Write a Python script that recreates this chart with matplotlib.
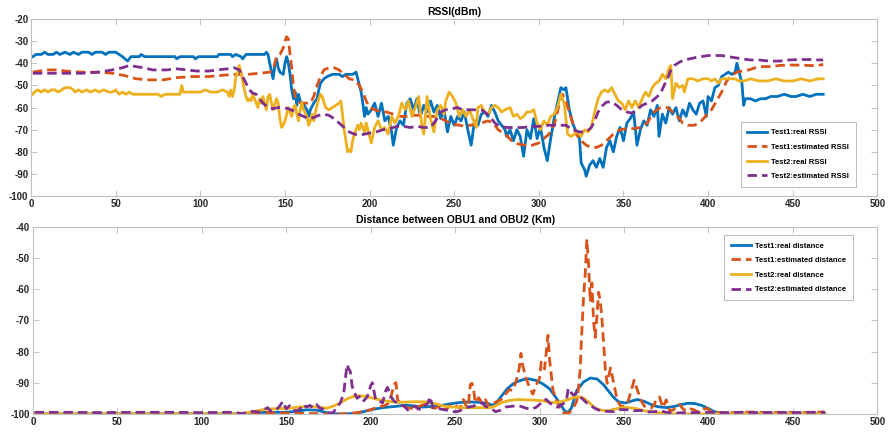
import matplotlib.pyplot as plt

plt.rcParams['font.family'] = ['Liberation Sans', 'DejaVu Sans']
plt.rcParams['axes.unicode_minus'] = False

# MATLAB default line colours
c_blue = '#0072BD'
c_orange = '#D95319'
c_yellow = '#EDB120'
c_purple = '#7E2F8E'

# ---- RSSI (dBm) ----
t1_real_rssi_x = [1, 3, 6, 8, 10, 13, 15, 17, 20, 23, 25, 28, 30, 34, 36, 38, 42, 44, 46, 50, 52, 54, 57, 59, 64, 65, 67,
                  85, 86, 88, 96, 97, 99, 110, 111, 118, 119, 121, 124, 125, 127, 138, 139, 140, 141, 143, 144, 145, 146,
                  147, 149, 150, 151, 152, 153, 154, 155, 156, 157, 158, 159, 160, 161, 162, 163, 164, 165, 167, 169,
                  170, 171, 173, 175, 178, 182, 184, 186, 190, 192, 193, 195, 196, 197, 198, 199, 201, 203, 205, 207,
                  209, 211, 213, 214, 216, 218, 220, 222, 224, 226, 228, 230, 232, 234, 236, 238, 240, 242, 244, 246,
                  248, 250, 252, 254, 256, 258, 260, 262, 264, 266, 268, 270, 272, 274, 276, 278, 280, 281, 283, 285,
                  287, 289, 291, 293, 295, 297, 299, 301, 303, 305, 307, 309, 311, 313, 315, 316, 318, 320, 322, 324,
                  325, 327, 328, 330, 332, 334, 336, 338, 340, 342, 344, 346, 348, 350, 352, 354, 356, 358, 360, 362,
                  364, 366, 368, 370, 371, 373, 375, 377, 379, 381, 383, 385, 387, 389, 391, 393, 395, 397, 399, 400,
                  402, 404, 406, 408, 410, 412, 414, 416, 417, 419, 420, 421, 422, 425, 428, 431, 434, 437, 441, 445,
                  449, 452, 456, 460, 464, 468]
t1_real_rssi_y = [-37, -36, -36, -35, -36, -36, -35, -36, -35, -36, -35, -36, -35, -35, -36, -35, -35, -36, -35, -35, -36,
                  -37, -39, -37, -37, -36, -37, -37, -38, -37, -37, -38, -37, -37, -36, -36, -37, -36, -37, -38, -36,
                  -36, -35, -36, -40, -47, -41, -38, -42, -44, -45, -40, -37, -40, -45, -52, -56, -53, -59, -54, -57,
                  -59, -58, -60, -61, -64, -61, -58, -56, -52, -49, -47, -46, -45, -45, -46, -45, -45, -44, -47, -53,
                  -58, -64, -60, -63, -61, -58, -64, -58, -66, -64, -71, -77, -69, -66, -68, -58, -56, -61, -56, -64,
                  -59, -62, -57, -62, -59, -65, -61, -71, -64, -68, -64, -66, -62, -70, -77, -66, -68, -63, -62, -64,
                  -59, -62, -66, -68, -70, -73, -70, -75, -70, -73, -82, -70, -74, -65, -74, -69, -78, -84, -74, -65,
                  -58, -51, -52, -51, -61, -67, -71, -74, -85, -88, -91, -86, -84, -87, -83, -87, -78, -75, -80, -73,
                  -69, -75, -67, -65, -62, -77, -70, -66, -68, -61, -64, -59, -73, -63, -67, -60, -63, -60, -66, -61,
                  -64, -58, -61, -63, -58, -57, -64, -55, -57, -51, -50, -46, -45, -44, -45, -44, -40, -46, -49, -59,
                  -56, -56, -57, -56, -56, -55, -55, -54, -55, -55, -54, -55, -54, -54]

t1_est_rssi_x = [1, 5, 10, 15, 20, 30, 40, 48, 55, 62, 70, 78, 86, 95, 105, 112, 120, 128, 135, 141, 143, 145, 147, 149,
                 150, 151, 152, 153, 154, 155, 156, 158, 160, 163, 165, 167, 169, 171, 173, 176, 179, 182, 185, 188, 191,
                 194, 196, 198, 200, 203, 207, 210, 214, 218, 222, 226, 230, 234, 238, 241, 245, 249, 253, 257, 262, 266,
                 270, 273, 276, 280, 284, 288, 292, 296, 300, 303, 306, 309, 311, 313, 314, 316, 318, 320, 322, 325, 328,
                 331, 334, 337, 340, 344, 348, 352, 356, 360, 364, 368, 372, 376, 379, 382, 385, 388, 392, 396, 399, 402,
                 405, 408, 411, 414, 417, 420, 424, 428, 432, 437, 442, 448, 454, 460, 465, 468]
t1_est_rssi_y = [-44, -43.5, -43, -43, -43.5, -44, -44, -44.5, -45.5, -47, -47.5, -47.5, -46.5, -46, -46, -45.5, -45, -45,
                 -44.5, -44, -43, -37, -36, -33, -30, -28, -29, -36, -42, -50, -55, -57.5, -58, -58, -58, -55, -50, -46,
                 -43, -42, -42, -43, -45, -47, -47.5, -50, -53, -57, -60, -61, -62, -62, -63, -64, -64, -63.5, -63.5,
                 -64, -64, -64.5, -66, -67.5, -68, -68.5, -67.5, -67, -66, -67, -70, -72, -75, -76.5, -77, -77, -76,
                 -74, -72, -68, -62, -55, -54, -57, -62, -67, -72, -75, -77, -78, -78, -77, -75, -72, -70, -69.5, -69.5,
                 -69, -67, -62, -60, -60, -62, -64, -67, -68, -68, -66, -63.5, -61, -57, -53, -48, -45.5, -44, -43.5,
                 -43, -42, -41.5, -41.5, -41, -40.8, -40.8, -41, -41, -40.5]

t2_real_rssi_x = [1, 2, 4, 6, 8, 10, 12, 14, 16, 18, 20, 23, 25, 26, 28, 30, 33, 35, 38, 40, 43, 46, 48, 50, 52, 54, 56,
                  58, 60, 70, 75, 77, 79, 85, 88, 89, 90, 92, 95, 100, 103, 106, 110, 113, 116, 117, 118, 119, 120, 121,
                  122, 123, 124, 125, 126, 127, 128, 129, 130, 131, 132, 133, 134, 135, 136, 137, 138, 139, 140, 141, 142,
                  143, 145, 146, 147, 148, 149, 150, 151, 152, 153, 154, 155, 156, 157, 158, 159, 160, 161, 163, 164, 165,
                  166, 167, 168, 170, 171, 172, 174, 176, 178, 180, 182, 183, 184, 185, 186, 187, 188, 189, 190, 191, 192,
                  193, 194, 195, 196, 197, 198, 199, 201, 203, 205, 207, 209, 211, 213, 215, 217, 219, 221, 223, 225, 227,
                  229, 231, 232, 234, 236, 238, 240, 242, 244, 245, 247, 249, 251, 253, 255, 257, 259, 261, 263, 264, 266,
                  268, 270, 272, 274, 276, 278, 280, 283, 285, 287, 289, 291, 293, 295, 297, 299, 301, 303, 305, 307, 309,
                  311, 313, 315, 317, 319, 321, 323, 325, 327, 329, 331, 333, 335, 337, 339, 341, 343, 345, 347, 349, 351,
                  353, 355, 357, 359, 361, 363, 365, 367, 369, 371, 373, 375, 377, 378, 379, 381, 383, 385, 386, 388, 391,
                  394, 397, 400, 402, 404, 406, 408, 412, 416, 418, 421, 425, 430, 435, 440, 445, 450, 455, 460, 465, 468]
t2_real_rssi_y = [-54, -53, -52, -53, -52, -53, -52, -52, -53, -52, -51, -51, -52, -53, -52, -53, -52, -53, -52, -53, -52,
                  -53, -53, -52, -54, -53, -54, -53, -54, -54, -54, -55, -54, -54, -54, -50, -53, -53, -53, -53, -52, -53,
                  -53, -52, -53, -55, -52, -55, -52, -46, -44, -41, -44, -48, -52, -55, -57, -56, -57, -54, -56, -58, -60,
                  -56, -58, -55, -58, -61, -55, -54, -58, -61, -56, -58, -65, -69, -68, -66, -63, -60, -62, -64, -60, -59,
                  -63, -66, -61, -58, -61, -64, -68, -66, -63, -66, -62, -56, -54, -55, -60, -61, -60, -59, -58, -57, -63,
                  -70, -75, -80, -79, -80, -75, -72, -70, -68, -70, -67, -69, -71, -67, -70, -76, -69, -66, -70, -69, -72,
                  -64, -67, -64, -58, -61, -57, -64, -60, -55, -69, -72, -55, -65, -71, -61, -59, -63, -57, -53, -55, -58,
                  -64, -61, -64, -61, -65, -69, -60, -59, -62, -63, -60, -59, -60, -62, -61, -60, -64, -63, -65, -64, -62,
                  -62, -61, -67, -70, -66, -68, -64, -63, -60, -54, -58, -72, -73, -72, -71, -73, -70, -71, -69, -62, -56,
                  -53, -52, -53, -51, -54, -57, -58, -61, -57, -60, -57, -60, -56, -53, -55, -51, -49, -48, -45, -47, -42,
                  -41, -56, -49, -51, -50, -53, -47, -47, -48, -47, -47, -48, -47, -49, -47, -47, -47, -48, -48, -47, -48,
                  -48, -47, -48, -48, -47, -48, -47, -47]

t2_est_rssi_x = [1, 10, 20, 30, 40, 48, 54, 58, 62, 66, 72, 80, 86, 92, 98, 105, 110, 116, 120, 123, 125, 127, 129, 131,
                 133, 135, 137, 140, 143, 146, 149, 152, 155, 158, 161, 164, 167, 170, 173, 176, 179, 182, 185, 188, 191,
                 194, 197, 200, 204, 208, 212, 216, 220, 224, 228, 232, 236, 239, 242, 245, 249, 252, 255, 258, 262, 266,
                 268, 271, 274, 277, 281, 286, 291, 296, 300, 304, 308, 312, 316, 320, 324, 328, 331, 333, 335, 337, 340,
                 343, 346, 349, 352, 355, 358, 361, 364, 367, 370, 372, 374, 376, 378, 380, 383, 386, 389, 392, 396, 400,
                 404, 408, 412, 416, 420, 425, 430, 436, 442, 448, 454, 460, 465, 468]
t2_est_rssi_y = [-44.5, -44.5, -44.5, -44.5, -44, -43, -42, -41, -41.5, -42, -43, -43, -42.5, -43, -43.5, -43.5, -43,
                 -42.5, -42, -43, -46, -49, -52, -53.5, -54, -56, -58, -60, -60.5, -60, -60, -60.5, -61.5, -63, -64,
                 -65, -64.5, -63.5, -63, -63.5, -65, -67, -69, -71, -72, -72.5, -72, -71.5, -71, -70, -69.5, -68.5,
                 -68.5, -69, -68.5, -69, -69, -66, -62, -61, -60.5, -60, -61, -61, -61, -61, -62, -64, -67, -68.5, -69,
                 -69, -69, -68.5, -68.5, -68, -68, -68, -68, -70, -71, -71, -69, -66, -62, -59.5, -57.5, -57.5, -59,
                 -61, -62, -62.5, -61, -59, -58, -57, -55, -53.5, -50, -47, -43, -41, -39.5, -38.5, -38, -37.5, -37,
                 -36.5, -36.5, -36.5, -37, -37.5, -38, -38.5, -38.5, -39, -39, -38.5, -38.3, -38.3, -38.5, -38.5]

# ---- Distance between OBU1 and OBU2 (Km) ----
t1_real_dist_x = [0, 20, 40, 60, 80, 100, 120, 125, 130, 140, 150, 156, 162, 168, 173, 178, 186, 191, 195, 200, 207, 215,
                  221, 226, 231, 237, 242, 247, 252, 258, 264, 269, 272, 274, 277, 281, 284, 287, 291, 294, 298, 302, 306,
                  310, 313, 315, 317, 319, 322, 326, 330, 334, 338, 341, 344, 347, 351, 355, 358, 362, 366, 370, 375, 380,
                  384, 388, 392, 396, 400, 403, 407, 410, 430, 450, 469]
t1_real_dist_y = [-100, -100, -100, -100, -100, -100, -100, -100, -99.6, -99.5, -99.5, -99.2, -98.7, -98.8, -99.5, -100,
                  -100, -99.8, -99.4, -98.7, -98, -97.6, -97.2, -97.5, -97.8, -97.6, -97.3, -96.8, -96.4, -96.2, -96.3,
                  -96.6, -97.2, -96.8, -94.6, -91.9, -90.5, -89.6, -88.9, -88.8, -89.3, -90.4, -92, -95, -97.5, -99.2,
                  -99.5, -98, -92.5, -89.8, -88.5, -88.8, -90.7, -92.8, -94.8, -96.2, -96.5, -95.8, -95.4, -96, -97,
                  -97.7, -98, -97.6, -97, -96.6, -96.7, -97.3, -98.3, -99.2, -99.8, -100, -100, -100, -100]

t1_est_dist_x = [1, 30, 60, 90, 120, 128, 135, 145, 155, 165, 175, 185, 192, 197, 200, 204, 208, 211, 213, 214, 215, 216,
                 218, 220, 223, 226, 229, 232, 235, 238, 241, 243, 245, 247, 249, 251, 253, 254, 255, 257, 258, 259, 260,
                 261, 262, 264, 266, 268, 270, 272, 274, 276, 278, 280, 282, 284, 286, 288, 289, 290, 292, 294, 296, 298,
                 300, 301, 303, 304, 305, 306, 308, 310, 312, 314, 316, 318, 320, 322, 323, 324, 325, 326, 327, 328, 329,
                 330, 331, 332, 333, 334, 335, 336, 337, 338, 339, 340, 342, 344, 346, 348, 350, 352, 354, 356, 358, 360,
                 362, 364, 366, 368, 369, 371, 373, 375, 377, 379, 381, 383, 385, 387, 389, 391, 393, 395, 397, 399, 402,
                 406, 415, 425, 435, 445, 455, 469]
t1_est_dist_y = [-100, -100, -100, -100, -100, -99.8, -99.5, -99.7, -99.8, -99.9, -100, -100, -99.6, -99, -98.7, -97.8,
                 -97.4, -96.5, -92.5, -90.5, -90, -95.5, -97, -97.8, -98.2, -98.2, -97.5, -96.9, -97.8, -98.2, -97.5,
                 -98.6, -98.4, -97.4, -96.8, -97.6, -98.3, -96, -95.4, -98, -96.2, -90.6, -90.2, -92.5, -96.5, -94.8,
                 -96.6, -95.5, -97.6, -97, -96.2, -95.8, -95.1, -93.6, -92.2, -92.5, -89.8, -85.3, -80.6, -84.5, -88.5,
                 -91.5, -93.7, -90.8, -88.6, -83.4, -85.6, -80, -74.8, -83, -92.6, -95.5, -98.6, -99.6, -99.8, -99.5,
                 -98, -96, -92, -86, -74, -63, -55.5, -44, -52, -64, -58, -70.5, -75.5, -68.5, -61, -64, -70, -78, -86,
                 -90.2, -85.3, -90.4, -95.5, -97.6, -97.5, -96.8, -93, -89.2, -92.5, -95.6, -97.5, -98, -98.2, -97,
                 -95.2, -94.6, -98, -95.5, -99, -98.8, -98, -97, -98.5, -99, -98.3, -98.6, -99.2, -99.3, -98.6, -98.2,
                 -99.3, -99.6, -99.6, -99.4, -99.6, -99.5, -99.6, -99.4]

t2_real_dist_x = [0, 30, 60, 90, 122, 127, 133, 138, 145, 152, 158, 164, 169, 174, 178, 182, 186, 190, 194, 198, 202, 206,
                  211, 216, 222, 228, 234, 239, 243, 248, 254, 260, 266, 271, 274, 278, 282, 287, 292, 297, 302, 307, 312,
                  316, 320, 323, 326, 329, 333, 337, 341, 345, 349, 353, 357, 362, 368, 374, 380, 400, 430, 469]
t2_real_dist_y = [-100, -100, -100, -100, -100, -99.6, -99, -98.5, -98.3, -98.2, -97.8, -97.6, -97.8, -98.2, -97.5, -96.5,
                  -95.2, -94.4, -94.2, -94.5, -95.1, -95.6, -96, -96.3, -96.2, -96.1, -96.2, -96.8, -97.5, -97.8, -98,
                  -98, -98, -98, -97.4, -96.3, -95.7, -95.4, -95.5, -95.6, -95.8, -96.4, -96.2, -95.6, -94.8, -94.5,
                  -94.9, -96.2, -98.2, -98.9, -99, -98.4, -98, -98, -98.3, -99, -99.5, -99.8, -100, -100, -100, -100]

t2_est_dist_x = [1, 20, 40, 60, 80, 100, 118, 124, 130, 134, 137, 139, 141, 144, 146, 148, 150, 152, 154, 156, 158, 160,
                 162, 164, 166, 168, 170, 172, 174, 176, 178, 180, 182, 184, 185, 186, 187, 188, 189, 190, 192, 194, 196,
                 198, 200, 201, 203, 205, 207, 209, 210, 212, 214, 216, 218, 220, 222, 224, 226, 228, 230, 232, 234, 235,
                 237, 239, 241, 245, 249, 252, 255, 258, 261, 264, 266, 268, 271, 274, 277, 280, 283, 286, 289, 292, 295,
                 298, 300, 302, 304, 306, 308, 310, 312, 314, 316, 317, 318, 320, 322, 324, 326, 328, 330, 333, 336, 340,
                 344, 348, 352, 356, 360, 364, 368, 372, 376, 380, 385, 390, 400, 410, 420, 430, 440, 450, 460, 469]
t2_est_dist_y = [-99.5, -99.5, -99.6, -99.5, -99.5, -99.6, -99.5, -99.9, -99.2, -99.4, -98.6, -98, -99.2, -98.8, -97.6,
                 -96, -98.4, -97.4, -98.8, -99, -98.6, -97, -97.8, -97.3, -98, -97, -98.2, -98.5, -99.4, -99.8, -99.5,
                 -97.8, -96.5, -93.5, -89, -84.2, -85.5, -86.5, -91, -92.8, -95, -94.2, -95.8, -94.5, -91, -90, -95.5,
                 -95.8, -96.5, -92.5, -91.5, -94.5, -96, -96.5, -97.2, -97.5, -98.8, -98, -97.5, -98.4, -98.6, -97.5,
                 -96.5, -94.5, -98, -97.8, -98.4, -98.8, -99.3, -99.2, -98.4, -97.8, -97.5, -96.8, -96.5, -97.6, -98.2,
                 -99.3, -98.8, -97.8, -97.6, -97.4, -97.6, -98.2, -98.5, -97.9, -97, -95.6, -95.4, -96.5, -97.2, -97.8,
                 -97.5, -96.8, -95.5, -91.8, -92.8, -94, -93.2, -94.5, -95.5, -96.5, -97.3, -98.3, -99, -99.2, -99.3,
                 -98.6, -98.7, -99, -98.9, -99.4, -99.3, -99.1, -99.6, -99.8, -99.6, -99.6, -99.5, -99.6, -99.5, -99.6,
                 -99.5, -99.6, -99.5, -99.5]

dash = (3.4, 1.8)

fig = plt.figure(figsize=(8.88, 4.32), dpi=100)
ax1 = fig.add_axes([0.035, 0.546, 0.953, 0.41])
ax2 = fig.add_axes([0.037, 0.042, 0.951, 0.433])

ax1.plot(t1_real_rssi_x, t1_real_rssi_y, color=c_blue, lw=2, label='Test1:real RSSI')
ax1.plot(t1_est_rssi_x, t1_est_rssi_y, color=c_orange, lw=2, dashes=dash, label='Test1:estimated RSSI')
ax1.plot(t2_real_rssi_x, t2_real_rssi_y, color=c_yellow, lw=2, label='Test2:real RSSI')
ax1.plot(t2_est_rssi_x, t2_est_rssi_y, color=c_purple, lw=2, dashes=dash, label='Test2:estimated RSSI')
ax1.set_ylim(-100, -20)
ax1.set_yticks(range(-100, -19, 10))
ax1.set_title('RSSI(dBm)', fontsize=7.5, fontweight='bold', pad=3)

ax2.plot(t1_real_dist_x, t1_real_dist_y, color=c_blue, lw=2, label='Test1:real distance')
ax2.plot(t1_est_dist_x, t1_est_dist_y, color=c_orange, lw=2, dashes=dash, label='Test1:estimated distance')
ax2.plot(t2_real_dist_x, t2_real_dist_y, color=c_yellow, lw=2, label='Test2:real distance')
ax2.plot(t2_est_dist_x, t2_est_dist_y, color=c_purple, lw=2, dashes=dash, label='Test2:estimated distance')
ax2.set_ylim(-100, -40)
ax2.set_yticks(range(-100, -39, 10))
ax2.set_title('Distance between OBU1 and OBU2 (Km)', fontsize=7.5, fontweight='bold', pad=3)

for ax in (ax1, ax2):
    ax.set_xlim(0, 500)
    ax.set_xticks(range(0, 501, 50))
    ax.tick_params(direction='in', top=True, right=True, length=4, width=0.6,
                   color='#b8b8b8', labelsize=7, labelcolor='#262626', pad=2)
    for lbl in ax.get_xticklabels() + ax.get_yticklabels():
        lbl.set_fontweight('bold')
    for sp in ax.spines.values():
        sp.set_color('#c0c0c0')
        sp.set_linewidth(0.8)

leg_kw = dict(loc='center', prop={'weight': 'bold', 'size': 5.5}, frameon=True, fancybox=False,
              edgecolor='#b0b0b0', framealpha=1, handlelength=2.6, labelspacing=0.95, borderpad=0.9,
              handletextpad=0.5)
l1 = ax1.legend(bbox_to_anchor=(0.826, 0.079, 0.161, 0.311), **leg_kw)
l2 = ax2.legend(bbox_to_anchor=(0.801, 0.626, 0.187, 0.31), **leg_kw)
for leg in (l1, l2):
    leg.get_frame().set_linewidth(0.6)

plt.savefig('out.png')
